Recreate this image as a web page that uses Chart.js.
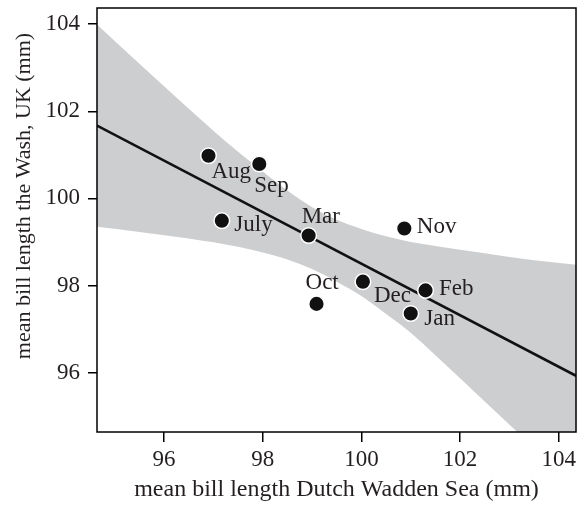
<!DOCTYPE html>
<html>
<head>
<meta charset="utf-8">
<script src="https://cdn.jsdelivr.net/npm/chart.js@4/dist/chart.umd.min.js"></script>
<style>
html, body { margin: 0; padding: 0; background: #fff; }
</style>
</head>
<body>
<canvas id="grafico" width="578" height="510"></canvas>
<script>
// dados
const months = ['Aug', 'Sep', 'July', 'Mar', 'Nov', 'Oct', 'Dec', 'Feb', 'Jan']
const billWadden = [96.90, 97.93, 97.17, 98.93, 100.87, 99.09, 100.03, 101.30, 101.00]
const billWash = [100.98, 100.79, 99.49, 99.15, 99.31, 97.58, 98.09, 97.89, 97.36]

// linha de regressão (extremos)
const fitX = [94.64, 104.35]
const fitY = [101.67, 95.93]

// faixa de confiança
const bandX = [94.64, 95.5, 96.5, 97.5, 98.0, 98.5, 99.0, 99.5, 100.0, 100.5, 101.0, 101.5, 102.5, 103.5, 104.35]
const bandUpper = [103.99, 103.09, 102.06, 101.07, 100.62, 100.18, 99.80, 99.51, 99.30, 99.13, 99.00, 98.91, 98.74, 98.58, 98.48]
const bandLower = [99.35, 99.23, 99.08, 98.89, 98.76, 98.60, 98.38, 98.09, 97.76, 97.35, 96.92, 96.40, 95.34, 94.28, 93.39]

const xTicks = [96, 98, 100, 102, 104]
const yTicks = [96, 98, 100, 102, 104]

// deslocamento dos rótulos em px (texto à esquerda, linha de base)
const labelOffsets = [[3, 22], [-5, 28], [12.5, 10], [-7, -12.5], [12.5, 4.5], [-11, -15], [11, 20], [13.5, 5], [13.5, 12]]

const fonte = 'Liberation Serif'
const corTexto = '#231f20'
Chart.defaults.font.family = fonte
Chart.defaults.color = corTexto

function pares(xs, ys) {
    return xs.map((x, i) => ({ x: x, y: ys[i] }))
}

const extras = {
    id: 'extras',
    afterDatasetsDraw(chart) {
        const ctx = chart.ctx
        const area = chart.chartArea
        const meta = chart.getDatasetMeta(0)
        ctx.save()
        // rótulos dos meses
        ctx.font = '23px "' + fonte + '"'
        ctx.fillStyle = corTexto
        ctx.textAlign = 'left'
        ctx.textBaseline = 'alphabetic'
        meta.data.forEach((pt, i) => {
            ctx.fillText(months[i], pt.x + labelOffsets[i][0], pt.y + labelOffsets[i][1])
        })
        // moldura
        ctx.strokeStyle = '#000'
        ctx.lineWidth = 1.5
        ctx.strokeRect(area.left, area.top, area.right - area.left, area.bottom - area.top)
        // título do eixo y
        ctx.font = '22px "' + fonte + '"'
        ctx.translate(24, 196)
        ctx.rotate(-Math.PI / 2)
        ctx.textAlign = 'center'
        ctx.textBaseline = 'middle'
        ctx.fillText('mean bill length the Wash, UK (mm)', 0, 0)
        ctx.restore()
    }
}

const ctx = document.getElementById('grafico').getContext('2d')

new Chart(ctx, {
    type: 'line',
    data: {
        datasets: [{
            data: pares(billWadden, billWash),
            showLine: false,
            pointRadius: 7.8,
            pointHoverRadius: 7.8,
            pointBackgroundColor: '#111',
            pointBorderColor: '#fff',
            pointBorderWidth: 1.5,
            order: 0
        }, {
            data: pares(fitX, fitY),
            borderColor: '#111',
            borderWidth: 2.6,
            pointRadius: 0,
            fill: false,
            order: 1
        }, {
            data: pares(bandX, bandUpper),
            borderColor: 'rgba(0,0,0,0)',
            borderWidth: 0,
            pointRadius: 0,
            cubicInterpolationMode: 'monotone',
            backgroundColor: '#cdcecf',
            fill: '+1',
            order: 2
        }, {
            data: pares(bandX, bandLower),
            borderColor: 'rgba(0,0,0,0)',
            borderWidth: 0,
            pointRadius: 0,
            cubicInterpolationMode: 'monotone',
            fill: false,
            order: 3
        }]
    },
    options: {
        responsive: false,
        animation: false,
        layout: { autoPadding: false, padding: { top: 8, right: 2, left: 0, bottom: 0 } },
        plugins: {
            legend: { display: false },
            tooltip: { enabled: false }
        },
        scales: {
            x: {
                type: 'linear',
                min: 94.64,
                max: 104.35,
                afterBuildTicks: scale => { scale.ticks = xTicks.map(v => ({ value: v })) },
                afterFit: scale => {
                    scale.height = 78
                    scale.paddingLeft = 0
                    scale.paddingRight = 0
                },
                border: { display: false },
                grid: { drawOnChartArea: false, drawTicks: true, tickLength: 10, color: '#000', lineWidth: 1.5 },
                ticks: { font: { size: 23, lineHeight: 1.55 }, padding: 0, maxRotation: 0, color: corTexto },
                title: {
                    display: true,
                    text: 'mean bill length Dutch Wadden Sea (mm)',
                    font: { size: 24 },
                    padding: { top: 0, bottom: 6 },
                    color: corTexto
                }
            },
            y: {
                type: 'linear',
                min: 94.64,
                max: 104.37,
                afterBuildTicks: scale => { scale.ticks = yTicks.map(v => ({ value: v })) },
                afterFit: scale => {
                    scale.width = 97
                    scale.paddingTop = 0
                    scale.paddingBottom = 0
                },
                border: { display: false },
                grid: { drawOnChartArea: false, drawTicks: true, tickLength: 9, color: '#000', lineWidth: 1.5 },
                ticks: { font: { size: 23 }, padding: 8, color: corTexto }
            }
        }
    },
    plugins: [extras]
})
</script>
</body>
</html>
